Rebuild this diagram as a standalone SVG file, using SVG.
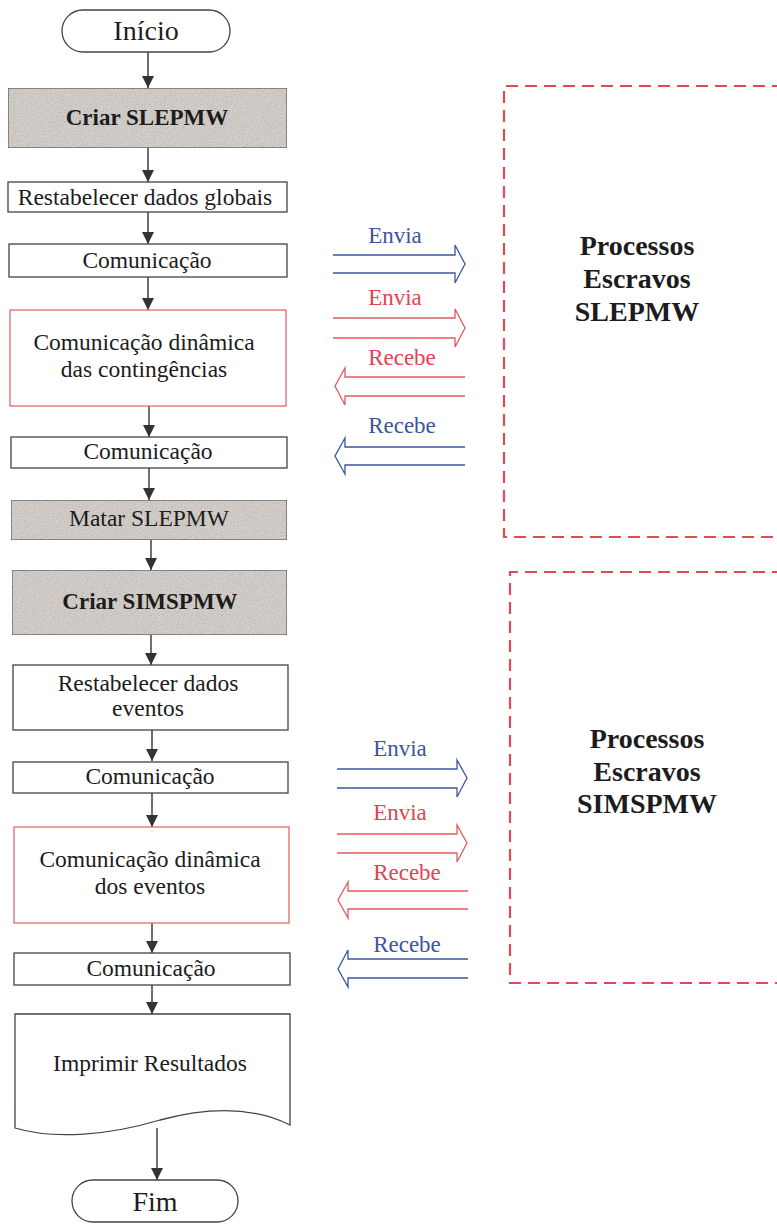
<svg xmlns="http://www.w3.org/2000/svg" width="777" height="1229" viewBox="0 0 777 1229">
  <defs>
    <style>
      .t { font-family: "Liberation Serif", "Times New Roman", serif; font-size: 23.5px; fill: #1c1c1c; text-anchor: middle; }
      .term { font-size: 28px; }
      .bold { font-weight: bold; font-size: 23px; }
      .box { fill: #fff; stroke: #444; stroke-width: 1.3; }
      .rbox { fill: #fff; stroke: #e06a6a; stroke-width: 1.3; }
      .gbox { fill: #d5d0cb; stroke: #555; stroke-width: 1.3; }
      .grain { filter: url(#grain); }
      .dash { fill: none; stroke: #e04a55; stroke-width: 2.2; stroke-dasharray: 12 7; }
      .flow { stroke: #333; stroke-width: 1.4; fill: none; marker-end: url(#tri); }
      .blue { fill: none; stroke: #3d559e; stroke-width: 1.3; }
      .red { fill: none; stroke: #e35a5f; stroke-width: 1.3; }
      .lb { font-family: "Liberation Serif", "Times New Roman", serif; font-size: 23px; text-anchor: middle; fill: #3d559e; }
      .lr { font-family: "Liberation Serif", "Times New Roman", serif; font-size: 23px; text-anchor: middle; fill: #e0454f; }
      .big { font-family: "Liberation Serif", "Times New Roman", serif; font-size: 28px; font-weight: bold; text-anchor: middle; fill: #1c1c1c; }
    </style>
    <marker id="tri" viewBox="0 0 12 12" refX="12" refY="6" markerWidth="12" markerHeight="12" markerUnits="userSpaceOnUse" orient="auto">
      <path d="M0,0 L12,6 L0,12 Z" fill="#333"/>
    </marker>
    <filter id="grain" x="0" y="0" width="100%" height="100%">
      <feTurbulence type="fractalNoise" baseFrequency="0.9" numOctaves="2" seed="3" result="n"/>
      <feColorMatrix in="n" type="matrix" values="0 0 0 0 0.35  0 0 0 0 0.33  0 0 0 0 0.32  0 0 0 -1.2 0.75" result="dots"/>
      <feComposite in="dots" in2="SourceGraphic" operator="in" result="d2"/>
      <feMerge><feMergeNode in="SourceGraphic"/><feMergeNode in="d2"/></feMerge>
    </filter>
  </defs>

  <rect width="777" height="1229" fill="#fff"/>

  <!-- flow connectors -->
  <g id="connectors">
    <line class="flow" x1="148" y1="52" x2="148" y2="88"/>
    <line class="flow" x1="148" y1="148" x2="148" y2="182"/>
    <line class="flow" x1="148" y1="212" x2="148" y2="244"/>
    <line class="flow" x1="148" y1="277" x2="148" y2="310"/>
    <line class="flow" x1="149" y1="406" x2="149" y2="437"/>
    <line class="flow" x1="149" y1="468" x2="149" y2="500"/>
    <line class="flow" x1="151" y1="540" x2="151" y2="570"/>
    <line class="flow" x1="151" y1="635" x2="151" y2="665"/>
    <line class="flow" x1="152" y1="730" x2="152" y2="761"/>
    <line class="flow" x1="152" y1="793" x2="152" y2="827"/>
    <line class="flow" x1="152" y1="923" x2="152" y2="953"/>
    <line class="flow" x1="152" y1="985" x2="152" y2="1014"/>
    <line class="flow" x1="157" y1="1128" x2="157" y2="1180"/>
  </g>

  <g id="inicio">
    <rect class="box" x="62" y="10" width="168" height="42" rx="21"/>
    <text class="t term" x="146" y="40">Início</text>
  </g>

  <g id="criar-slepmw">
    <rect class="gbox grain" x="8" y="88" width="279" height="60"/>
    <text class="t bold" x="147" y="125">Criar SLEPMW</text>
  </g>

  <g id="restabelecer-globais">
    <rect class="box" x="8" y="182" width="279" height="30"/>
    <text class="t" x="145" y="205">Restabelecer dados globais</text>
  </g>

  <g id="comunicacao-1">
    <rect class="box" x="9" y="244" width="278" height="33"/>
    <text class="t" x="147" y="268">Comunicação</text>
  </g>

  <g id="dinamica-contingencias">
    <rect class="rbox" x="10" y="310" width="276" height="96"/>
    <text class="t" x="144" y="350">Comunicação dinâmica</text>
    <text class="t" x="144" y="377">das contingências</text>
  </g>

  <g id="comunicacao-2">
    <rect class="box" x="11" y="437" width="276" height="31"/>
    <text class="t" x="148" y="459">Comunicação</text>
  </g>

  <g id="matar-slepmw">
    <rect class="gbox grain" x="11" y="500" width="276" height="40"/>
    <text class="t" x="149" y="526">Matar SLEPMW</text>
  </g>

  <g id="criar-simspmw">
    <rect class="gbox grain" x="12" y="570" width="275" height="65"/>
    <text class="t bold" x="150" y="609">Criar SIMSPMW</text>
  </g>

  <g id="restabelecer-eventos">
    <rect class="box" x="13" y="665" width="275" height="65"/>
    <text class="t" x="148" y="691">Restabelecer dados</text>
    <text class="t" x="148" y="716">eventos</text>
  </g>

  <g id="comunicacao-3">
    <rect class="box" x="13" y="762" width="275" height="31"/>
    <text class="t" x="150" y="784">Comunicação</text>
  </g>

  <g id="dinamica-eventos">
    <rect class="rbox" x="14" y="827" width="275" height="96"/>
    <text class="t" x="150" y="867">Comunicação dinâmica</text>
    <text class="t" x="150" y="894">dos eventos</text>
  </g>

  <g id="comunicacao-4">
    <rect class="box" x="14" y="953" width="276" height="32"/>
    <text class="t" x="151" y="976">Comunicação</text>
  </g>

  <g id="imprimir">
    <path class="box" d="M15,1014 L290,1014 L290,1125 C250,1105 205,1108 160,1120 C110,1135 55,1140 15,1128 Z"/>
    <text class="t" x="150" y="1071">Imprimir Resultados</text>
  </g>

  <g id="fim">
    <rect class="box" x="72" y="1180" width="166" height="42" rx="21"/>
    <text class="t term" x="155" y="1211">Fim</text>
  </g>

  <!-- slave process regions -->
  <g id="escravos-slepmw">
    <path class="dash" d="M784,86 L504,86 L504,537 L784,537"/>
    <text class="big" x="637" y="255">Processos</text>
    <text class="big" x="637" y="288">Escravos</text>
    <text class="big" x="637" y="321">SLEPMW</text>
  </g>

  <g id="escravos-simspmw">
    <path class="dash" d="M784,572 L510,572 L510,983 L784,983"/>
    <text class="big" x="647" y="748">Processos</text>
    <text class="big" x="647" y="781">Escravos</text>
    <text class="big" x="647" y="813">SIMSPMW</text>
  </g>

  <!-- message arrows between master and slaves -->
  <g id="mensagens">
    <text class="lb" x="395" y="243">Envia</text>
    <path class="blue" d="M333,255 L455,255 L455,245 L465,264 L455,283 L455,273 L333,273"/>
    <text class="lr" x="395" y="305">Envia</text>
    <path class="red" d="M333,318 L455,318 L455,309 L465,328 L455,347 L455,338 L333,338"/>
    <text class="lr" x="402" y="365">Recebe</text>
    <path class="red" d="M465,377 L345,377 L345,368 L335,386 L345,405 L345,396 L465,396"/>
    <text class="lb" x="402" y="433">Recebe</text>
    <path class="blue" d="M465,447 L345,447 L345,438 L335,456 L345,474 L345,465 L465,465"/>

    <text class="lb" x="400" y="756">Envia</text>
    <path class="blue" d="M337,769 L457,769 L457,760 L467,778 L457,797 L457,788 L337,788"/>
    <text class="lr" x="400" y="820">Envia</text>
    <path class="red" d="M337,834 L457,834 L457,825 L467,843 L457,862 L457,853 L337,853"/>
    <text class="lr" x="407" y="880">Recebe</text>
    <path class="red" d="M468,891 L348,891 L348,882 L338,900 L348,918 L348,909 L468,909"/>
    <text class="lb" x="407" y="952">Recebe</text>
    <path class="blue" d="M468,959 L348,959 L348,950 L338,969 L348,987 L348,978 L468,978"/>
  </g>
</svg>
